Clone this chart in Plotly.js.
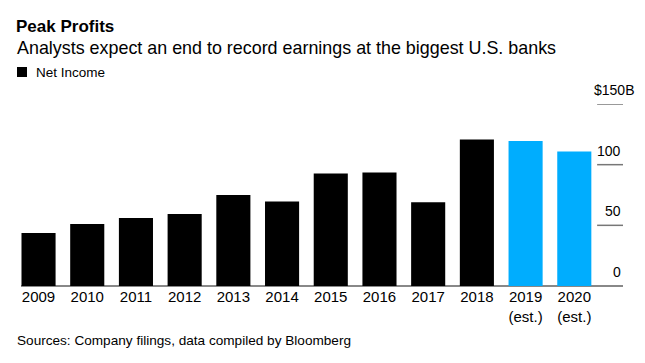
<!DOCTYPE html>
<html><head><meta charset="utf-8">
<script src="https://cdn.plot.ly/plotly-3.0.1.min.js"></script>
<style>html,body{margin:0;padding:0;background:#fff}#c{width:645px;height:363px}</style>
</head><body><div id="c"></div>
<script>
var years = ["2009","2010","2011","2012","2013","2014","2015","2016","2017","2018"];
var netIncome = [43.7, 51.1, 56.1, 59.4, 75.0, 69.6, 92.7, 93.5, 69.0, 120.7];
var estYears = ["2019<br>(est.)","2020<br>(est.)"];
var estIncome = [119.5, 110.8];
var yTicks = [0, 50, 100, 150];
var yTickLabels = ["0", "50", "100", "$150B"];
var seriesName = "Net Income";

var FONT = "Liberation Sans, Arial, sans-serif";
var traces = [
  {type:"bar", x:years, y:netIncome, name:seriesName, marker:{color:"#000000"}, showlegend:false, hoverinfo:"x+y"},
  {type:"bar", x:estYears, y:estIncome, name:"Estimate", marker:{color:"#00adfe"}, showlegend:false, hoverinfo:"x+y"}
];

var shapes = yTicks.filter(function(v){return v>0;}).map(function(v){
  return {type:"line", xref:"paper", yref:"y", x0:0.957, x1:1, y0:v, y1:v, line:{color:"#777", width:1.5}};
});
// legend swatch
shapes.push({type:"rect", xref:"paper", yref:"paper", x0:-4/602, x1:6/602, y0:1+(104-77)/182, y1:1+(104-67)/182,
  fillcolor:"#000", line:{width:0}});
var annotations = yTicks.map(function(v,i){
  var last = (i === yTicks.length-1);
  return {xref:"paper", yref:"y", x:1, y:v, text:yTickLabels[i], showarrow:false,
    xanchor:"right", yanchor:"bottom", xshift: last ? 13 : 0, yshift:4,
    font:{family:FONT, size:14, color:"#000"}};
});
annotations.push({xref:"paper", yref:"paper", x:-6/602, y:-(340-285.7)/182, xanchor:"left", yanchor:"middle",
  text:"Sources: Company filings, data compiled by Bloomberg", showarrow:false, font:{family:FONT, size:13.6, color:"#000"}});
annotations.push({xref:"paper", yref:"paper", x:-6/602, y:1+(104-48)/182, xanchor:"left", yanchor:"middle",
  text:"Analysts expect an end to record earnings at the biggest U.S. banks", showarrow:false, font:{family:FONT, size:17.9, color:"#000"}});
annotations.push({xref:"paper", yref:"paper", x:13/602, y:1+(104-72)/182, xanchor:"left", yanchor:"middle",
  text:seriesName, showarrow:false, font:{family:FONT, size:13.5, color:"#000"}});

var layout = {
  width:645, height:363,
  margin:{l:21, r:22, t:104, b:77},
  paper_bgcolor:"#fff", plot_bgcolor:"#fff",
  title:{text:"<b>Peak Profits</b>", x:16/645, xanchor:"left", y:1-26/363, yanchor:"middle", font:{family:FONT, size:17, color:"#000"}},
  barmode:"overlay", bargap:0.3,
  showlegend:false,
  xaxis:{type:"category", categoryorder:"array", categoryarray:years.concat(estYears), autorange:false, range:[-0.36, 12.0],
    showgrid:false, zeroline:false, showline:false, ticks:"", tickfont:{family:FONT, size:15, color:"#000"}, fixedrange:true},
  yaxis:{range:[0,150], autorange:false, showgrid:false, zeroline:true, zerolinecolor:"#888", zerolinewidth:1.5, showticklabels:false, ticks:"", fixedrange:true},
  shapes:shapes,
  annotations:annotations
};
Plotly.newPlot("c", traces, layout, {displayModeBar:false, staticPlot:true});
</script></body></html>
